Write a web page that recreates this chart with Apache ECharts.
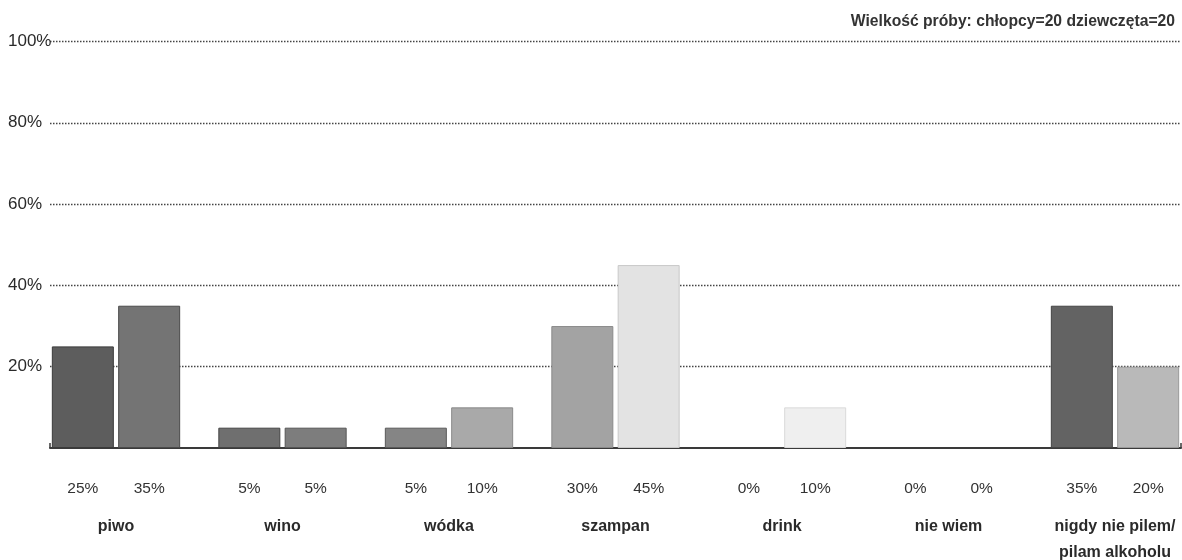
<!DOCTYPE html>
<html>
<head>
<meta charset="utf-8">
<script src="https://cdn.jsdelivr.net/npm/echarts@6/dist/echarts.min.js"></script>
<style>
html,body{margin:0;padding:0;background:#fff;}
#chart{width:1182px;height:560px;}
</style>
</head>
<body>
<div id="chart"></div>
<script>
// ---- data ----
const categories = ['piwo', 'wino', 'wódka', 'szampan', 'drink', 'nie wiem', 'nigdy nie pilem/\npilam alkoholu'];
const chlopcy = [25, 5, 5, 30, 0, 0, 35];
const dziewczeta = [35, 5, 10, 45, 10, 0, 20];
const yTicks = [0, 20, 40, 60, 80, 100];
const sampleNote = 'Wielkość próby: chłopcy=20 dziewczęta=20';

// ---- styles (per bar) ----
const colorsA = ['#5d5d5d', '#6f6f6f', '#858585', '#a3a3a3', '#e8e8e8', '#cccccc', '#636363'];
const colorsB = ['#747474', '#7d7d7d', '#a9a9a9', '#e3e3e3', '#efefef', '#dddddd', '#b9b9b9'];
const bordersA = ['#3a3a3a', '#444', '#5a5a5a', '#8a8a8a', '#d0d0d0', '#bbb', '#444'];
const bordersB = ['#4a4a4a', '#555', '#8a8a8a', '#c8c8c8', '#dadada', '#ccc', '#9a9a9a'];

const chart = echarts.init(document.getElementById('chart'));
const labelFont = "'Liberation Sans', Arial, sans-serif";
const condFont = "'Liberation Sans Narrow', 'Liberation Sans', Arial, sans-serif";

function barData(values, fills, borders) {
  return values.map((v, i) => ({
    value: v,
    itemStyle: { color: fills[i], borderColor: borders[i], borderWidth: v === 0 ? 0 : 1 }
  }));
}

const barLabel = {
  show: true, position: 'bottom', distance: 33, formatter: '{c}%',
  fontFamily: labelFont, fontSize: 15.5, color: '#333'
};

const option = {
  animation: false,
  backgroundColor: '#fff',
  title: {
    text: sampleNote,
    right: 2,
    top: 9,
    textStyle: { fontFamily: labelFont, fontSize: 15.7, fontWeight: 'bold', color: '#333' }
  },
  grid: [
    { left: 32.75, right: -16.25, top: 41.5, bottom: 112, outerBoundsMode: 'none', containLabel: false },
    { left: 50, right: 1, top: 41.5, bottom: 112, outerBoundsMode: 'none', containLabel: false }
  ],
  xAxis: [
    {
      type: 'category', gridIndex: 0, data: categories,
      axisLine: { show: false }, axisTick: { show: false },
      axisLabel: {
        margin: 66, interval: 0, fontFamily: labelFont, fontSize: 16, fontWeight: 'bold',
        color: '#2a2a2a', lineHeight: 26
      }
    },
    {
      type: 'value', gridIndex: 1, min: 0, max: 1, interval: 1,
      axisLine: { show: true, lineStyle: { color: '#3a3a3a', width: 2 } },
      axisTick: { show: true, length: 5, inside: true, lineStyle: { color: '#3a3a3a', width: 1.5 } },
      axisLabel: { show: false },
      splitLine: { show: false }
    }
  ],
  yAxis: [
    { type: 'value', gridIndex: 0, min: 0, max: 100, show: false },
    {
      type: 'value', gridIndex: 1, min: yTicks[0], max: yTicks[yTicks.length - 1], interval: 20,
      axisLine: { show: false }, axisTick: { show: false },
      axisLabel: {
        align: 'left', margin: 42, fontFamily: condFont, fontSize: 17, color: '#2a2a2a',
        formatter: v => (v === 0 ? '' : v + '%')
      },
      splitLine: { show: true, showMinLine: false, lineStyle: { color: '#444', width: 1.3, type: [1.5, 1.5] } }
    }
  ],
  series: [
    {
      name: 'chłopcy', type: 'bar', xAxisIndex: 0, yAxisIndex: 0,
      data: barData(chlopcy, colorsA, bordersA), barWidth: 62, barGap: '7%',
      label: barLabel
    },
    {
      name: 'dziewczęta', type: 'bar', xAxisIndex: 0, yAxisIndex: 0,
      data: barData(dziewczeta, colorsB, bordersB), barWidth: 62, barGap: '7%',
      label: barLabel
    }
  ]
};
chart.setOption(option);
</script>
</body>
</html>
